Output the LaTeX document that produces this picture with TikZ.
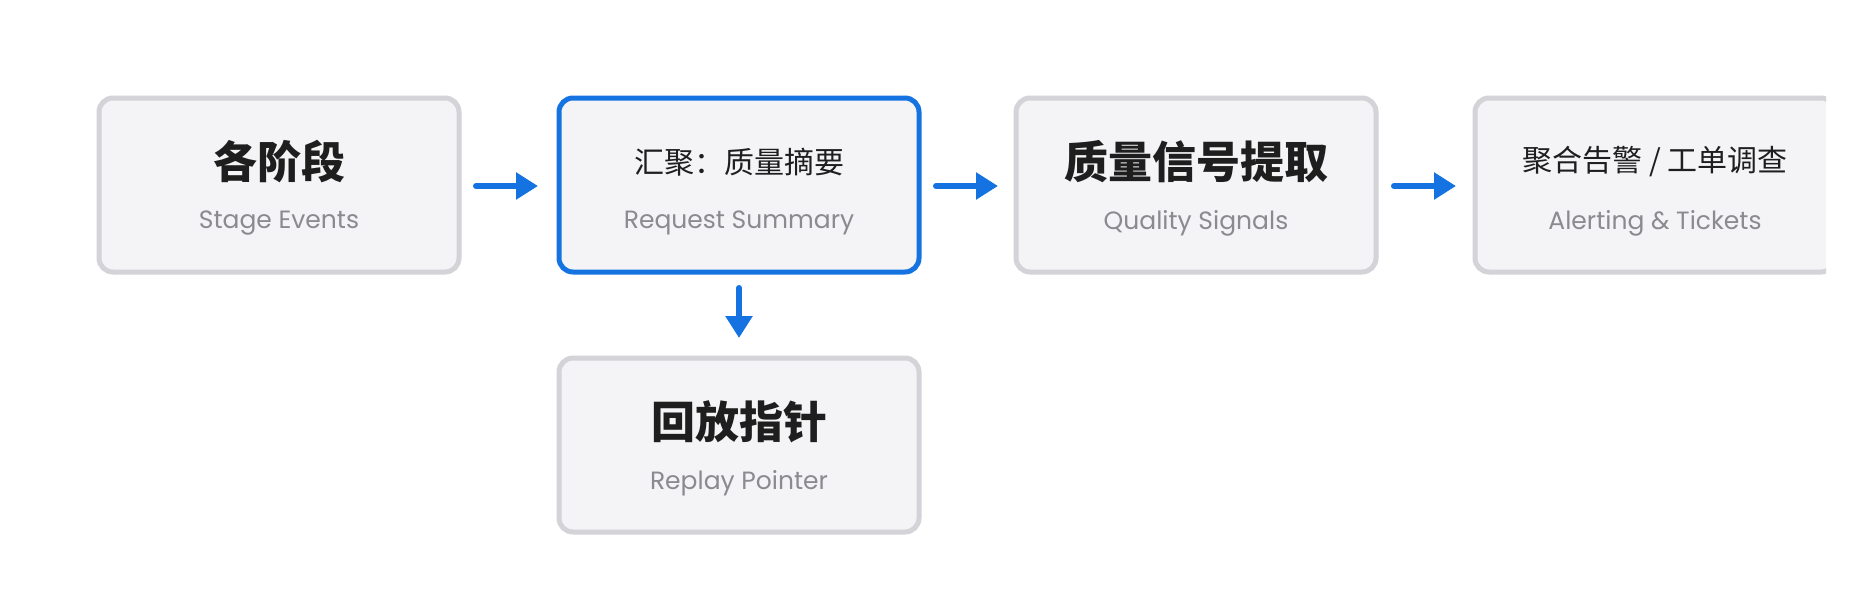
\documentclass[tikz,border=0pt]{standalone}
\usepackage{fontspec}
\setmainfont{Poppins}
\newfontfamily\cjk{Noto Sans CJK SC}
\usetikzlibrary{arrows.meta}
\definecolor{bord}{HTML}{D3D3D8}
\definecolor{boxfill}{HTML}{F4F4F7}
\definecolor{blu}{HTML}{1473E0}
\definecolor{sub}{HTML}{8A8A8F}
\definecolor{ttl}{HTML}{1E1E1E}
\tikzset{
  box/.style={draw=bord,fill=boxfill,line width=5pt,rounded corners=14pt,minimum width=360pt,minimum height=174pt,inner sep=0pt},
  hl/.style={draw=blu},
  conn/.style={draw=blu,line width=6pt,line cap=round,-{Triangle[length=22pt,width=26pt]}},
  ttlbig/.style={font=\cjk\fontsize{44}{48}\selectfont\bfseries,text=ttl},
  ttlsm/.style={font=\cjk\fontsize{30}{34}\selectfont,text=ttl},
  subt/.style={font=\fontsize{25}{28}\selectfont,text=sub}
}
\begin{document}
\begin{tikzpicture}[x=1pt,y=1pt]
\useasboundingbox (0,0) rectangle (1862,-603);
\node[box] (b1) at (279,-185) {};
\node[box,hl] (b2) at (739,-185) {};
\node[box] (b3) at (1196,-185) {};
\begin{scope}
\clip (1440,-60) rectangle (1826,-300);
\node[box] (b4) at (1655,-185) {};
\end{scope}
\node[box] (b5) at (739,-445) {};
\node[ttlbig] (t1) at (279,-162) {各阶段};
\node[subt] (s1) at (279,-223) {Stage Events};
\node[ttlsm] (t2) at (739,-162) {汇聚：质量摘要};
\node[subt] (s2) at (739,-223) {Request Summary};
\node[ttlbig] (t3) at (1196,-162) {质量信号提取};
\node[subt] (s3) at (1196,-223) {Quality Signals};
\node[ttlsm] (t4) at (1655,-162) {聚合告警 / 工单调查};
\node[subt] (s4) at (1655,-223) {Alerting \& Tickets};
\node[ttlbig] (t5) at (739,-422) {回放指针};
\node[subt] (s5) at (739,-483) {Replay Pointer};
\coordinate (a1s) at (476,-186); \coordinate (a1e) at (538,-186);
\coordinate (a2s) at (936,-186); \coordinate (a2e) at (998,-186);
\coordinate (a3s) at (1394,-186); \coordinate (a3e) at (1456,-186);
\coordinate (a4s) at (739,-288); \coordinate (a4e) at (739,-338);
\draw[conn] (a1s) -- (a1e);
\draw[conn] (a2s) -- (a2e);
\draw[conn] (a3s) -- (a3e);
\draw[conn] (a4s) -- (a4e);
\end{tikzpicture}
\end{document}
